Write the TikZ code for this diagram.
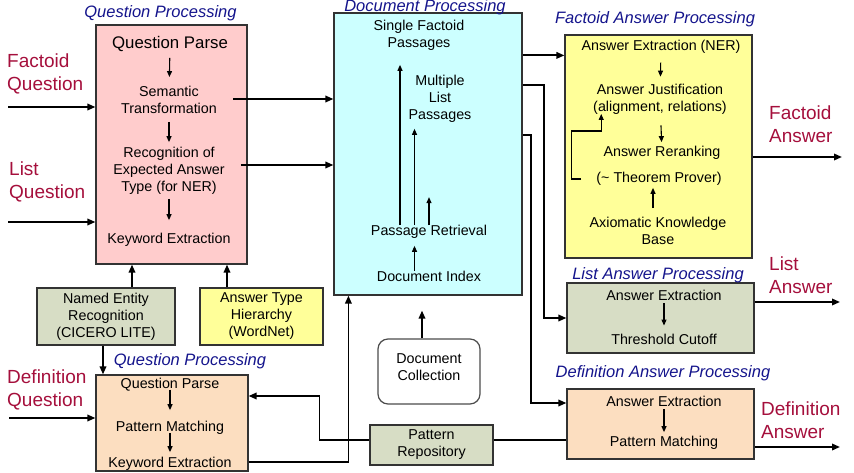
\documentclass[tikz,border=0pt]{standalone}
\usepackage{fontspec}
\setmainfont{Liberation Sans}
\usetikzlibrary{arrows.meta,positioning,calc}

\definecolor{qpink}{RGB}{255,204,204}
\definecolor{dcyan}{RGB}{204,255,255}
\definecolor{ayellow}{RGB}{255,255,153}
\definecolor{sgreen}{RGB}{215,221,197}
\definecolor{peach}{RGB}{252,222,192}
\definecolor{qred}{RGB}{165,15,60}
\definecolor{navyblue}{RGB}{20,20,140}

\begin{document}
\begin{tikzpicture}[
    x=1pt, y=-1pt,
    box/.style={rectangle, draw=black!80, line width=1.2pt, inner sep=0pt},
    sbox/.style={box, align=center, font=\fontsize{14.3}{17}\selectfont},
    txt/.style={align=center, inner sep=0pt, font=\fontsize{14.3}{17}\selectfont},
    title/.style={inner sep=0pt, font=\fontsize{16.5}{19}\selectfont\itshape, text=navyblue},
    lbl/.style={anchor=west, align=left, inner sep=0pt, font=\fontsize{19}{23}\selectfont, text=qred},
    arrow/.style={-{Triangle[length=8pt,width=6.5pt]}, line width=1.8pt},
    line/.style={line width=1.8pt},
    stp/.style={-{Triangle[length=6pt,width=5pt]}, line width=1.1pt}
]
\useasboundingbox (0,0) rectangle (854,473);

% Question Processing (factoid / list)
\node[box, fill=qpink, minimum width=151pt, minimum height=239pt] (qp) at (171.5,144.5) {};
\node[title] (qptitle) at (160.5,13) {Question Processing};
\node[txt, font=\fontsize{16.8}{19}\selectfont] (qparse) at (170,44) {Question Parse};
\node[txt] (qsem) at (169,100) {Semantic\\Transformation};
\node[txt] (qrec) at (169,171) {Recognition of\\Expected Answer\\Type (for NER)};
\node[txt] (qkw) at (169,240) {Keyword Extraction};
\draw[stp, shorten <=6pt, shorten >=9pt] (qparse) -- (qsem);
\draw[stp, shorten <=8pt, shorten >=5pt] (qsem) -- (qrec);
\draw[stp, shorten <=4pt, shorten >=13pt] (qrec) -- (qkw);

% Inputs
\node[lbl] (fq) at (7,73.5) {Factoid\\Question};
\node[lbl] (lq) at (9,181.5) {List\\Question};
\coordinate (fqin) at (8,107);
\coordinate (lqin) at (8,222);
\draw[arrow] (fqin) -- (fqin -| qp.west);
\draw[arrow] (lqin) -- (lqin -| qp.west);

% Resources
\node[sbox, fill=sgreen, minimum width=138pt, minimum height=57pt] (ner) at (106,316.5) {Named Entity\\Recognition\\(CICERO LITE)};
\node[sbox, fill=ayellow, minimum width=123pt, minimum height=57pt] (atype) at (261.5,316.5) {Answer Type\\Hierarchy\\(WordNet)};
\draw[arrow] ([xshift=26pt]ner.north) -- ([xshift=26pt]ner.north |- qp.south);
\draw[arrow] ([xshift=-34.5pt]atype.north) -- ([xshift=-34.5pt]atype.north |- qp.south);

% Document Processing
\node[box, fill=dcyan, minimum width=188pt, minimum height=282pt] (doc) at (428,154) {};
\node[title] (doctitle) at (425,7.5) {Document Processing};
\node[txt] (sfp) at (419,35.5) {Single Factoid\\Passages};
\node[txt] (mlp) at (440,99) {Multiple\\List\\Passages};
\node[txt] (pret) at (429,232) {Passage Retrieval};
\node[txt] (dix) at (429,276) {Document Index};
\draw[stp, shorten >=14pt] ([xshift=-29pt]pret.north) -- ([xshift=-29pt]pret.north |- sfp.south);
\draw[stp, shorten >=6pt] ([xshift=-14.5pt]pret.north) -- ([xshift=-14.5pt]pret.north |- mlp.south);
\draw[stp] (pret.north) -- ++(0,-28);
\draw[stp, shorten >=7pt] ([xshift=-14.5pt]dix.north) -- ([xshift=-14.5pt]dix.north |- pret.south);

\draw[arrow] ([yshift=1pt]qsem.east) ++(16,0) -- ([yshift=1pt]qsem.east -| doc.west);
\draw[arrow] ([yshift=6pt]qrec.east) ++(16,0) -- ([yshift=6pt]qrec.east -| doc.west);

% Document Collection
\node[sbox, draw=black!70, fill=white, rounded corners=10pt, minimum width=102pt, minimum height=65pt] (dcol) at (429,371.5) {Document\\Collection\\[-9pt]};
\draw[arrow, shorten >=15pt] ([xshift=-7pt]dcol.north) -- ([xshift=-7pt]dcol.north |- doc.south);

% Factoid Answer Processing
\node[box, fill=ayellow, minimum width=187pt, minimum height=223pt] (fa) at (658.5,146.5) {};
\node[title] (fatitle) at (655,19) {Factoid Answer Processing};
\node[txt] (fae) at (661,46.7) {Answer Extraction (NER)};
\node[txt] (ajust) at (660,99) {Answer Justification\\(alignment, relations)};
\node[txt] (arank) at (662,153) {Answer Reranking};
\node[txt] (tprov) at (659,179) {(\char`\~{} Theorem Prover)};
\node[txt] (akb) at (658,231) {Axiomatic Knowledge\\Base};
\draw[stp, shorten <=9pt, shorten >=7pt] (fae) -- (ajust);
\draw[stp, shorten <=11pt, shorten >=4pt] (ajust) -- (arank);
\draw[stp, shorten <=9pt, shorten >=2pt] ([xshift=-5pt]akb.north) -- ([xshift=-5pt]akb.north |- tprov.south);
\draw[stp] ([xshift=-15pt]tprov.west) -- ++(-10,0) -- ++(0,-48) -- ++(30,0) -- ++(0,-17);

\draw[arrow] ([yshift=-43pt]doc.north east) -- ([yshift=-43pt]doc.north east -| fa.west);

% List Answer Processing
\node[box, fill=sgreen, minimum width=187pt, minimum height=70pt] (la) at (660.5,318) {};
\node[title] (latitle) at (658,275) {List Answer Processing};
\node[txt] (lae) at (664,295) {Answer Extraction};
\node[txt] (ltc) at (664,339) {Threshold Cutoff};
\draw[stp, shorten <=3pt, shorten >=8pt] (lae) -- (ltc);
\draw[arrow] ([yshift=-73pt]doc.north east) -- ++(21,0) |- (la.west);

% Definition Answer Processing
\node[box, fill=peach, minimum width=187pt, minimum height=70pt] (da) at (660.5,424) {};
\node[title] (datitle) at (663,373) {Definition Answer Processing};
\node[txt] (dae) at (664,401) {Answer Extraction};
\node[txt] (dpm) at (664,443) {Pattern Matching};
\draw[stp, shorten <=3pt, shorten >=4pt] (dae) -- (dpm);
\draw[arrow] ([yshift=-123pt]doc.north east) -- ++(8,0) |- ([yshift=21pt]da.west);

% Outputs
\node[lbl] (fans) at (769,124) {Factoid\\Answer};
\node[lbl] (lans) at (769,275) {List\\Answer};
\node[lbl] (dans) at (761,420.5) {Definition\\Answer};
\coordinate (faout) at (842,157);
\coordinate (laout) at (840,302);
\coordinate (daout) at (840,447);
\draw[arrow] (faout -| fa.east) -- (faout);
\draw[arrow] (laout -| la.east) -- (laout);
\draw[arrow] (daout -| da.east) -- (daout);

% Question Processing (definition)
\node[box, fill=peach, minimum width=152pt, minimum height=96pt] (dqp) at (172,423) {};
\node[title] (dqptitle) at (190,361) {Question Processing};
\node[txt] (dq1) at (170,385) {Question Parse};
\node[txt] (dq2) at (170,428) {Pattern Matching};
\node[txt] (dq3) at (170,464) {Keyword Extraction};
\draw[stp, shorten <=-2pt, shorten >=11pt] (dq1) -- (dq2);
\draw[stp, shorten <=-2pt, shorten >=5pt] (dq2) -- (dq3);
\node[lbl] (dq) at (7,389.5) {Definition\\Question};
\coordinate (dqin) at (9,418);
\draw[arrow] (dqin) -- (dqin -| dqp.west);
\draw[arrow] ([xshift=-3pt]ner.south) -- ([xshift=-3pt]ner.south |- dqp.north);
\draw[arrow] ([yshift=-39pt]dqp.east) -| ([xshift=15pt]doc.south west);

% Pattern Repository
\node[sbox, fill=sgreen, minimum width=123pt, minimum height=40pt] (prep) at (431.5,445) {Pattern\\Repository};
\draw[arrow] ([yshift=5pt]prep.west) -- ++(-50,0) |- ([yshift=27pt]dqp.east);
\draw[line] ([yshift=5pt]prep.east) -- ([yshift=5pt]prep.east -| da.west);

\end{tikzpicture}
\end{document}
